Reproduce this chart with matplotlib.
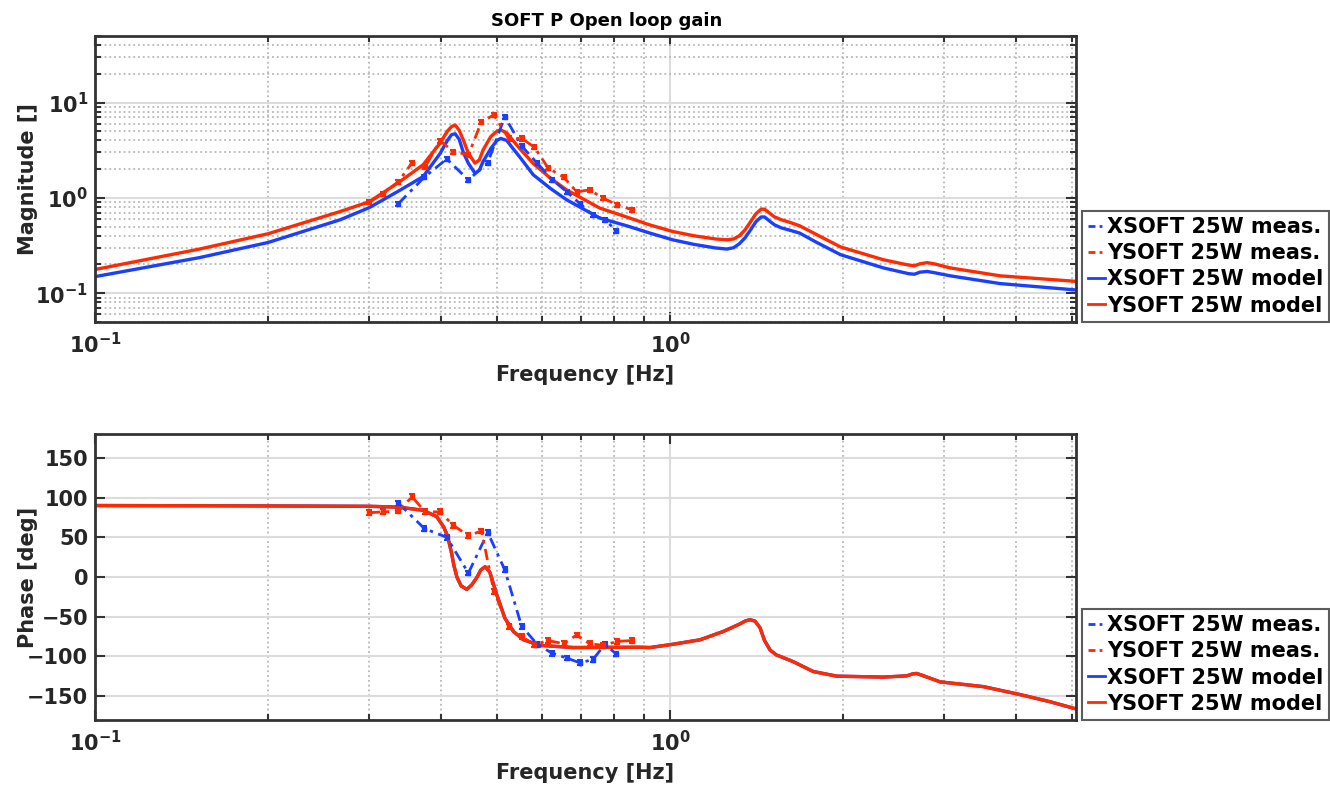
import numpy as np
import matplotlib.pyplot as plt
from matplotlib.lines import Line2D
from matplotlib.ticker import LogLocator, NullFormatter, NullLocator, FixedLocator

plt.rcParams['font.family'] = ['DejaVu Sans']
plt.rcParams['font.weight'] = 'bold'
plt.rcParams['mathtext.default'] = 'bf'

# measured points, XSOFT 25W
x_meas_freq = [0.337, 0.374, 0.409, 0.446, 0.482, 0.516, 0.552, 0.588, 0.624, 0.661, 0.697, 0.734, 0.770, 0.807]
x_meas_mag = [0.87, 1.65, 2.56, 1.54, 2.34, 7.1, 3.5, 2.3, 1.55, 1.16, 0.87, 0.66, 0.59, 0.45]
x_meas_phase = [93, 61, 50, 5, 56, 9, -62, -85, -96, -102, -108, -104, -85, -97]

# measured points, YSOFT 25W
y_meas_freq = [0.300, 0.317, 0.337, 0.356, 0.375, 0.398, 0.420, 0.446, 0.470, 0.494,
               0.524, 0.552, 0.581, 0.614, 0.653, 0.688, 0.725, 0.765, 0.810, 0.858]
y_meas_mag = [0.91, 1.10, 1.48, 2.34, 2.09, 3.98, 3.06, 2.82, 6.3, 7.4,
              4.2, 4.2, 3.4, 2.05, 1.65, 1.16, 1.21, 0.99, 0.845, 0.75]
y_meas_phase = [81, 82, 83, 101, 82, 82, 65, 52, 58, -18,
                -62, -75, -85, -80, -84, -73, -84, -86, -81, -80]

mag_rel_err = 0.05   # relative error on measured magnitude
phase_err = 3.0      # deg

# model magnitude
model_freq = [0.1, 0.152, 0.2, 0.267, 0.3, 0.339, 0.372, 0.398, 0.41, 0.417, 0.423, 0.43, 0.437, 0.446, 0.458,
              0.466, 0.473, 0.488, 0.5, 0.508, 0.52, 0.533, 0.55, 0.578, 0.62, 0.661, 0.755, 0.84, 0.922,
              1.01, 1.1, 1.2, 1.256, 1.29, 1.32, 1.35, 1.38, 1.41, 1.44, 1.46, 1.49, 1.52, 1.56, 1.62, 1.68,
              1.8, 1.98, 2.35, 2.6, 2.66, 2.72, 2.8, 2.88, 3.07, 3.75, 5.08]
x_model_mag = [0.149, 0.236, 0.340, 0.589, 0.79, 1.2, 1.67, 2.9, 4.0, 4.6, 4.7, 4.1, 3.0, 2.3, 1.81,
               1.95, 2.4, 3.3, 4.0, 4.2, 4.0, 3.3, 2.6, 1.75, 1.25, 0.953, 0.613, 0.51, 0.427,
               0.363, 0.325, 0.298, 0.290, 0.300, 0.33, 0.38, 0.46, 0.56, 0.63, 0.63, 0.57, 0.52, 0.485, 0.455, 0.427,
               0.34, 0.253, 0.184, 0.160, 0.158, 0.166, 0.169, 0.164, 0.152, 0.126, 0.108]
y_model_mag = [0.177, 0.290, 0.420, 0.719, 0.91, 1.48, 2.22, 3.74, 5.0, 5.6, 5.8, 5.1, 4.05, 2.93, 2.31,
               2.5, 3.18, 4.4, 5.0, 5.15, 4.8, 4.0, 3.2, 2.3, 1.6, 1.21, 0.78, 0.63, 0.52,
               0.444, 0.40, 0.37, 0.363, 0.37, 0.40, 0.46, 0.56, 0.68, 0.76, 0.76, 0.69, 0.63, 0.59, 0.55, 0.509,
               0.41, 0.305, 0.224, 0.197, 0.194, 0.203, 0.209, 0.203, 0.184, 0.152, 0.133]

# model phase (same for X and Y)
phase_freq = [0.1, 0.2, 0.3, 0.337, 0.372, 0.393, 0.398, 0.404, 0.409, 0.413, 0.417, 0.421, 0.426, 0.433, 0.443,
              0.452, 0.461, 0.469, 0.477, 0.486, 0.4995, 0.516, 0.534, 0.556, 0.594, 0.679,
              0.887, 0.923, 1.013, 1.128, 1.238, 1.323, 1.35, 1.377, 1.405, 1.434, 1.46, 1.493, 1.53, 1.574, 1.638,
              1.775, 1.950, 2.350, 2.580, 2.64, 2.685, 2.75, 2.949, 3.507, 4.062, 4.580, 5.08]
model_phase = [90, 89.5, 89, 88, 84, 76, 70, 63, 54, 43, 30, 14, 0, -11, -15.6,
               -10, -1, 9, 13, 6, -22, -51.6, -68.5, -79, -86, -88.8,
               -88.4, -88.8, -84.6, -79, -68.5, -59, -55.5, -53.7, -55.5, -64, -80, -92, -98, -101.5, -106.6,
               -119, -124.8, -126, -124.4, -122, -121.4, -124, -132, -138, -148, -157, -166]

blue = '#1b3fff'
red = '#ff2a00'
dark = '#333333'
fmin, fmax = 0.1, 5.08


def style_axes(ax, xlabel, ylabel):
    for sp in ax.spines.values():
        sp.set_linewidth(2)
        sp.set_color(dark)
    ax.set_xscale('log')
    ax.set_xlim(fmin, fmax)
    ax.xaxis.set_major_locator(FixedLocator([0.1, 1]))
    ax.set_xticklabels([r'$10^{-1}$', r'$10^{0}$'])
    ax.xaxis.set_minor_locator(LogLocator(base=10, subs=np.arange(2, 10)))
    ax.xaxis.set_minor_formatter(NullFormatter())
    ax.tick_params(which='both', direction='in', top=True, right=True,
                   color=dark, labelcolor='#262626', labelsize=15, width=1.5)
    ax.tick_params(which='major', length=7)
    ax.tick_params(axis='x', which='major', pad=7)
    ax.tick_params(axis='y', which='major', pad=5)
    ax.tick_params(which='minor', length=4)
    ax.set_axisbelow(True)
    ax.grid(True, which='major', color='#dcdcdc', linestyle='-', linewidth=1.5)
    ax.set_xlabel(xlabel, fontsize=15, fontweight='bold', color='#262626')
    ax.set_ylabel(ylabel, fontsize=15, fontweight='bold', color='#262626')
    ax.xaxis.set_label_coords(0.5, -0.152)
    ax.yaxis.set_label_coords(-0.058, 0.5)


def add_legend(ax):
    handles = [Line2D([], [], color=blue, lw=2, ls=(0, (2.5, 1.5, 1, 1.5))),
               Line2D([], [], color=red, lw=2, ls=(0, (2.5, 1.5, 1, 1.5))),
               Line2D([], [], color=blue, lw=2),
               Line2D([], [], color=red, lw=2)]
    labels = ['XSOFT 25W meas.', 'YSOFT 25W meas.', 'XSOFT 25W model', 'YSOFT 25W model']
    leg = ax.legend(handles, labels, loc='lower left', bbox_to_anchor=(1.006, 0),
                    borderaxespad=0, fancybox=False, handlelength=0.8, handletextpad=0.1,
                    borderpad=0.3, labelspacing=0.3, prop={'size': 15, 'weight': 'bold'})
    leg.get_frame().set_edgecolor(dark)
    leg.get_frame().set_linewidth(1.5)


fig = plt.figure(figsize=(13.3, 7.85), dpi=100)
ax1 = fig.add_axes([0.0714, 0.590, 0.7376, 0.3643])
ax2 = fig.add_axes([0.0714, 0.0828, 0.7376, 0.3643])

meas_ls = (0, (4, 2, 1.2, 2))

# magnitude
ax1.errorbar(x_meas_freq, x_meas_mag, yerr=np.array(x_meas_mag) * mag_rel_err, color=blue,
             ls=meas_ls, lw=2, marker='s', ms=3.5, capsize=2.5, elinewidth=1.5, capthick=1.5)
ax1.errorbar(y_meas_freq, y_meas_mag, yerr=np.array(y_meas_mag) * mag_rel_err, color=red,
             ls=meas_ls, lw=2, marker='s', ms=3.5, capsize=2.5, elinewidth=1.5, capthick=1.5)
ax1.plot(model_freq, x_model_mag, color=blue, lw=2.4)
ax1.plot(model_freq, y_model_mag, color=red, lw=2.4)
ax1.set_yscale('log')
ax1.set_ylim(0.05, 50)
style_axes(ax1, 'Frequency [Hz]', 'Magnitude []')
ax1.yaxis.set_major_locator(FixedLocator([0.1, 1, 10]))
ax1.set_yticklabels([r'$10^{-1}$', r'$10^{0}$', r'$10^{1}$'])
ax1.yaxis.set_minor_locator(LogLocator(base=10, subs=np.arange(2, 10)))
ax1.yaxis.set_minor_formatter(NullFormatter())
ax1.grid(True, which='minor', color='#b8b8b8', linestyle=':', linewidth=1.3)
ax1.set_title('SOFT P Open loop gain', fontsize=13, fontweight='bold', pad=7, x=0.522)
add_legend(ax1)

# phase
ax2.errorbar(x_meas_freq, x_meas_phase, yerr=phase_err, color=blue,
             ls=meas_ls, lw=2, marker='s', ms=3.5, capsize=2.5, elinewidth=1.5, capthick=1.5)
ax2.errorbar(y_meas_freq, y_meas_phase, yerr=phase_err, color=red,
             ls=meas_ls, lw=2, marker='s', ms=3.5, capsize=2.5, elinewidth=1.5, capthick=1.5)
ax2.plot(phase_freq, model_phase, color=blue, lw=2.4)
ax2.plot(phase_freq, model_phase, color=red, lw=2.4)
ax2.set_ylim(-180, 180)
style_axes(ax2, 'Frequency [Hz]', 'Phase [deg]')
ax2.set_yticks([-150, -100, -50, 0, 50, 100, 150])
ax2.yaxis.set_minor_locator(NullLocator())
ax2.grid(True, which='minor', axis='x', color='#b8b8b8', linestyle=':', linewidth=1.3)
add_legend(ax2)

fig.savefig('out.png', dpi=100)
